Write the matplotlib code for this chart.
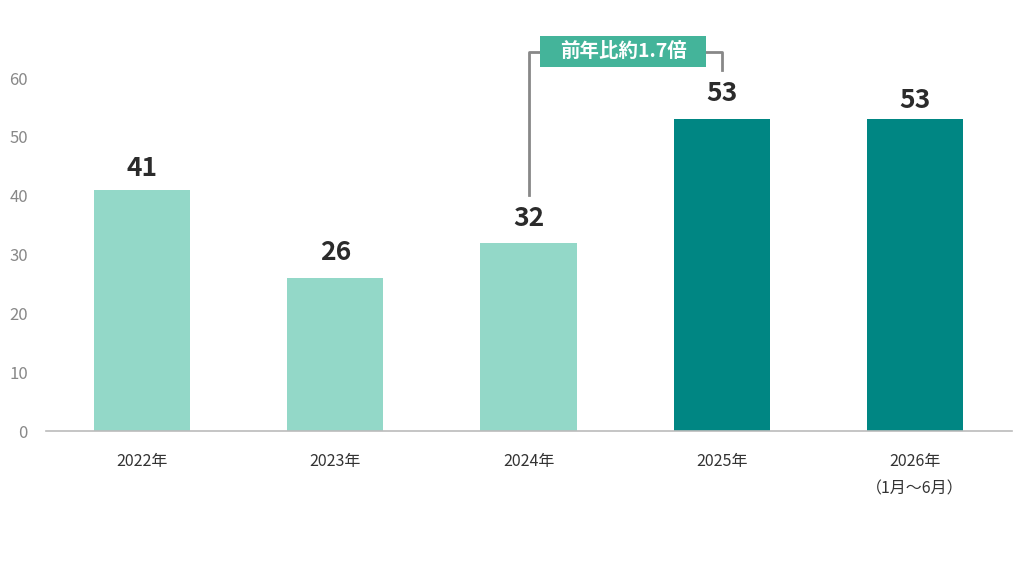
import matplotlib
matplotlib.use("Agg")
import matplotlib.pyplot as plt
from matplotlib.patches import Rectangle

plt.rcParams['font.family'] = ['Noto Sans CJK JP', 'DejaVu Sans']

# datos
years = ['2022年', '2023年', '2024年', '2025年', '2026年\n（1月～6月）']
values = [41, 26, 32, 53, 53]
colors = ['#93d8c8', '#93d8c8', '#93d8c8', '#008683', '#008683']
label_gaps = [14, 18, 17, 18, 11]  # px entre barra y etiqueta
callout_text = '前年比約1.7倍'

fig = plt.figure(figsize=(10.24, 5.76), dpi=100)
ax = fig.add_axes([46 / 1024, 145 / 576, 966 / 1024, 411.8 / 576])

x = range(len(values))
ax.bar(x, values, width=0.497, color=colors, zorder=2)

ax.set_xlim(-0.497, 4.502)
ax.set_ylim(0, 70)
ax.set_yticks([0, 10, 20, 30, 40, 50, 60])
ax.set_xticks(list(x))
ax.set_xticklabels(years, linespacing=1.75)

for s in ['top', 'right', 'left']:
    ax.spines[s].set_visible(False)
ax.spines['bottom'].set_color('#bbbbbb')
ax.spines['bottom'].set_linewidth(1.2)
ax.tick_params(axis='y', length=0, pad=13, labelsize=12, labelcolor='#888888')
ax.tick_params(axis='x', length=0, pad=16, labelsize=11.5, labelcolor='#333333')

# etiquetas de valor
for i, v in enumerate(values):
    ax.annotate(str(v), (i, v), xytext=(0, label_gaps[i] * 0.72),
                textcoords='offset points', ha='center', va='baseline',
                fontsize=19, fontweight='bold', color='#2b2b2b')

# corchete de comparación 2024 -> 2025
y_top = 64.4
ax.plot([2, 2, 3, 3], [values[2] + 8.1, y_top, y_top, values[3] + 8.4],
        color='#888888', lw=2, zorder=1, clip_on=False)
bw, bh = 0.858, 5.27
ax.add_patch(Rectangle((2.49 - bw / 2, 64.5 - bh / 2), bw, bh, fc='#44b49a',
                       ec='none', zorder=3, clip_on=False))
ax.text(2.49, 64.5, callout_text, ha='center', va='center', fontsize=14,
        fontweight='bold', color='white', zorder=4)

fig.savefig('out.png', dpi=100)
